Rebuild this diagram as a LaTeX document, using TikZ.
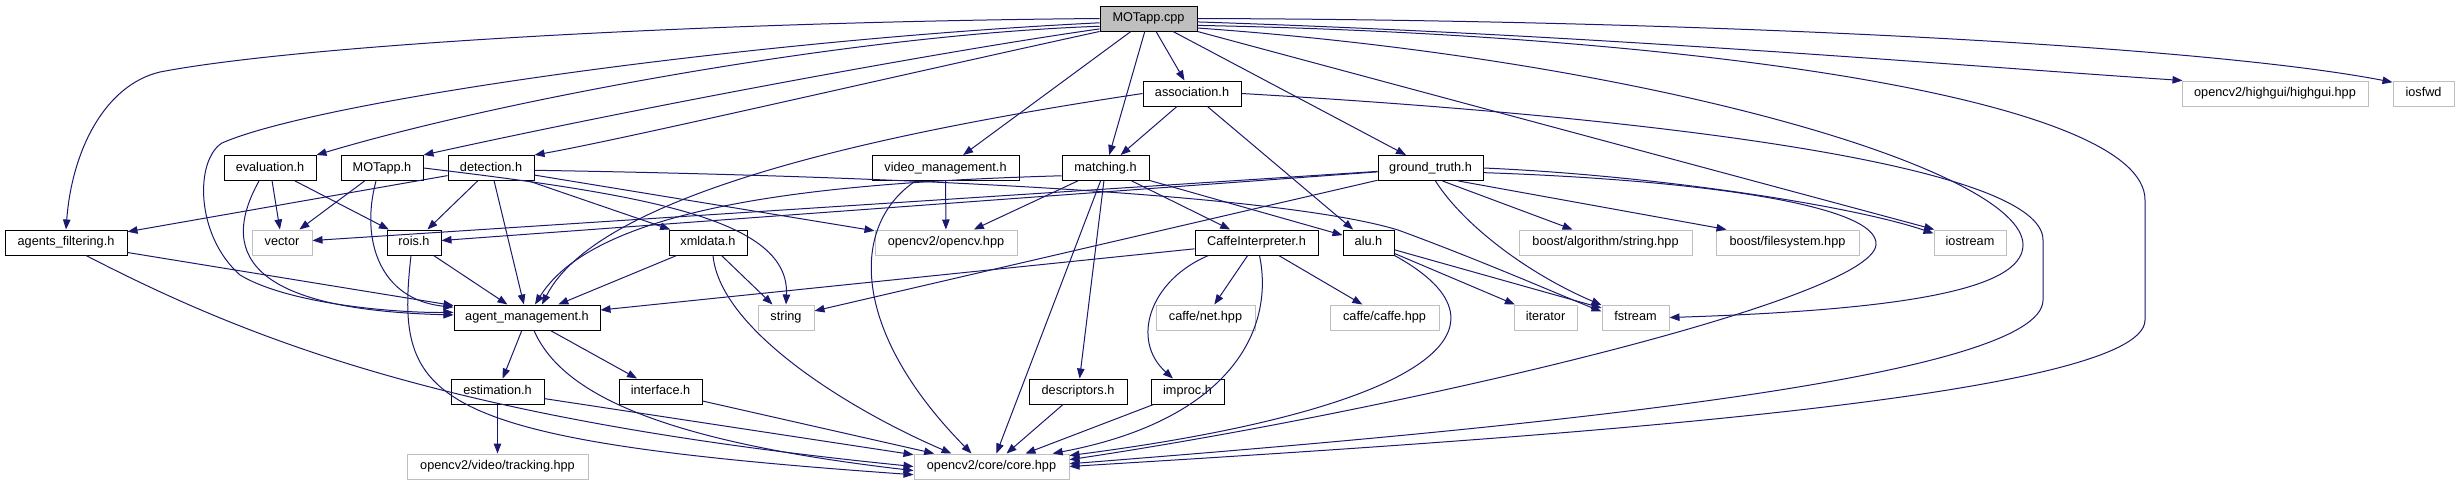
\documentclass[tikz,border=0pt]{standalone}
\usepackage{fontspec}
\setmainfont{Liberation Sans}
\usetikzlibrary{arrows.meta}
\definecolor{edgec}{HTML}{191970}
\definecolor{greyb}{HTML}{BFBFBF}
\begin{document}
\begin{tikzpicture}[x=1pt,y=-1pt,
  nb/.style={draw=black, line width=1pt, minimum height=25pt, inner sep=0pt, text height=9.3pt, text depth=2.6pt, font=\fontsize{12.7}{14}\selectfont},
  ext/.style={nb, draw=greyb},
  root/.style={nb, fill=greyb},
  e/.style={draw=edgec, line width=1pt, -{Triangle[length=10pt,width=7.5pt]}}]
\fill[white] (0,0) rectangle (2459,485);
\useasboundingbox (0,0) rectangle (2459,485);
% row 1
\node[root, minimum width=97pt] (motcpp) at (1148.5,18.5) {MOTapp.cpp};
% row 2
\node[nb, minimum width=98pt] (assoc) at (1192,93.5) {association.h};
\node[ext, minimum width=186pt] (highgui) at (2275,93.5) {opencv2/highgui/highgui.hpp};
\node[ext, minimum width=61pt] (iosfwd) at (2423.5,93.5) {iosfwd};
% row 3
\node[nb, minimum width=92pt] (eval) at (270,168) {evaluation.h};
\node[nb, minimum width=82pt] (motapph) at (382,168) {MOTapp.h};
\node[nb, minimum width=86pt] (detect) at (491,168) {detection.h};
\node[nb, minimum width=147pt] (video) at (945.5,168) {video\_management.h};
\node[nb, minimum width=87pt] (match) at (1105.5,168) {matching.h};
\node[nb, minimum width=105pt] (gt) at (1430.5,168) {ground\_truth.h};
% row 4
\node[nb, minimum width=122pt] (agfilt) at (66,242.5) {agents\_filtering.h};
\node[ext, minimum width=60pt] (vector) at (282,242.5) {vector};
\node[nb, minimum width=54pt] (rois) at (414,242.5) {rois.h};
\node[nb, minimum width=78pt] (xml) at (708,242.5) {xmldata.h};
\node[ext, minimum width=142pt] (ocv) at (946,242.5) {opencv2/opencv.hpp};
\node[nb, minimum width=123pt] (caffei) at (1256.5,242.5) {CaffeInterpreter.h};
\node[nb, minimum width=51pt] (alu) at (1368.5,242.5) {alu.h};
\node[ext, minimum width=173pt] (bstr) at (1605.5,242.5) {boost/algorithm/string.hpp};
\node[ext, minimum width=143pt] (bfs) at (1787.5,242.5) {boost/filesystem.hpp};
\node[ext, minimum width=72pt] (iostream) at (1970,242.5) {iostream};
% row 5
\node[nb, minimum width=146pt] (agmgmt) at (527,317.5) {agent\_management.h};
\node[ext, minimum width=56pt] (string) at (786,317.5) {string};
\node[ext, minimum width=99pt] (cnet) at (1205.5,317.5) {caffe/net.hpp};
\node[ext, minimum width=109pt] (ccaffe) at (1384.5,317.5) {caffe/caffe.hpp};
\node[ext, minimum width=63pt] (iterator) at (1545.5,317.5) {iterator};
\node[ext, minimum width=67pt] (fstream) at (1635.5,317.5) {fstream};
% row 6
\node[nb, minimum width=93pt] (estim) at (497.5,391.5) {estimation.h};
\node[nb, minimum width=83pt] (iface) at (660.5,391.5) {interface.h};
\node[nb, minimum width=98pt] (desc) at (1078,391.5) {descriptors.h};
\node[nb, minimum width=73pt] (improc) at (1187.5,391.5) {improc.h};
% row 7
\node[ext, minimum width=181pt] (track) at (497.5,466.5) {opencv2/video/tracking.hpp};
\node[ext, minimum width=155pt] (core) at (991.5,466.5) {opencv2/core/core.hpp};

% ---- edges from MOTapp.cpp
\draw[e] (motcpp.west) .. controls (700,22) and (300,45) .. (160,72) .. controls (105,85) and (72,150) .. (agfilt.north);
\draw[e] (motcpp.185) .. controls (750,40) and (320,100) .. (222,143) .. controls (195,160) and (195,235) .. (240,275) .. controls (290,305) and (400,313) .. (agmgmt.176);
\draw[e] (motcpp.189) .. controls (850,35) and (500,100) .. (eval.north east);
\draw[e] (motcpp.192) .. controls (950,50) and (650,105) .. (motapph.north east);
\draw[e] (motcpp.south west) .. controls (900,75) and (620,140) .. (detect.north east);
\draw[e] (motcpp) -- (video);
\draw[e] (motcpp) -- (match);
\draw[e] (motcpp) -- (assoc);
\draw[e] (motcpp) -- (gt);
\draw[e] (motcpp.east) .. controls (1700,20) and (2200,45) .. (iosfwd.160);
\draw[e] (motcpp.356) .. controls (1600,35) and (1950,65) .. (highgui.172);
\draw[e] (motcpp.352) .. controls (1700,35) and (2145,100) .. (2145,200) -- (2145,320) .. controls (2145,400) and (1500,440) .. (core.0);
\draw[e] (motcpp.349) .. controls (1650,60) and (2023,170) .. (2023,245) .. controls (2023,290) and (1900,310) .. (fstream.east);
\draw[e] (motcpp.south east) -- (iostream.160);
% ---- association.h
\draw[e] (assoc) -- (match);
\draw[e] (assoc) -- (alu);
\draw[e] (assoc.west) .. controls (900,130) and (600,190) .. ([xshift=15pt]agmgmt.north);
\draw[e] (assoc.east) .. controls (1700,120) and (2043,170) .. (2043,240) -- (2043,300) .. controls (2043,380) and (1500,430) .. (core.2);
% ---- evaluation.h
\draw[e] (eval) -- (vector);
\draw[e] (eval) -- (rois);
\draw[e] ([xshift=-11pt]eval.south) .. controls (215,260) and (260,310) .. (agmgmt.178);
% ---- MOTapp.h
\draw[e] (motapph) -- (vector);
\draw[e] ([xshift=-6pt]motapph.south) .. controls (360,240) and (380,300) .. (agmgmt.172);
\draw[e] (motapph.east) .. controls (650,195) and (790,220) .. (string.north);
% ---- detection.h
\draw[e] (detect) -- (agfilt);
\draw[e] (detect) -- (rois);
\draw[e] (detect) -- (agmgmt);
\draw[e] (detect) -- (xml);
\draw[e] (detect) -- (ocv);
\draw[e] (detect.-3) .. controls (1000,178) and (1300,200) .. (1398,230) .. controls (1480,260) and (1560,295) .. (fstream.170);
% ---- video_management.h
\draw[e] (video) -- (ocv);
\draw[e] ([xshift=-30pt]video.south) .. controls (850,225) and (850,330) .. ([xshift=-20pt]core.north);
% ---- matching.h
\draw[e] (match.190) .. controls (850,182) and (600,200) .. ([xshift=8pt]agmgmt.north);
\draw[e] (match) -- (ocv);
\draw[e] (match) -- (caffei);
\draw[e] (match) -- (alu);
\draw[e] (match) -- (desc);
\draw[e] (match) -- (core);
% ---- ground_truth.h
\draw[e] (gt) -- (vector);
\draw[e] (gt) -- (rois);
\draw[e] (gt) -- (string);
\draw[e] ([xshift=12pt]gt.south) -- ([xshift=-33pt]bstr.north);
\draw[e] ([xshift=28pt]gt.south) -- ([xshift=-61pt]bfs.north);
\draw[e] ([xshift=5pt]gt.south) .. controls (1460,220) and (1520,270) .. (fstream.160);
\draw[e] (gt.east) .. controls (1650,175) and (1850,205) .. (iostream.166);
\draw[e] (gt.-5) .. controls (1700,180) and (1880,205) .. (1876,245) .. controls (1870,300) and (1400,410) .. (core.5);
% ---- xmldata.h
\draw[e] (xml) -- (agmgmt);
\draw[e] (xml) -- (string);
\draw[e] ([xshift=5pt]xml.south) .. controls (720,330) and (850,410) .. ([xshift=-40pt]core.north);
% ---- agents_filtering.h
\draw[e] (agfilt) -- (agmgmt);
\draw[e] ([xshift=20pt]agfilt.south) .. controls (250,340) and (450,420) .. (core.west);
% ---- rois.h
\draw[e] (rois) -- (agmgmt);
\draw[e] ([xshift=-3pt]rois.south) .. controls (395,400) and (420,440) .. (core.186);
% ---- agent_management.h
\draw[e] (agmgmt) -- (estim);
\draw[e] (agmgmt) -- (iface);
\draw[e] ([xshift=7pt]agmgmt.south) .. controls (560,390) and (650,440) .. (core.183);
% ---- estimation.h and others
\draw[e] (estim) -- (track);
\draw[e] (estim) -- (core);
\draw[e] (iface) -- (core);
\draw[e] (desc) -- (core);
\draw[e] (improc) -- (core);
% ---- CaffeInterpreter.h
\draw[e] (caffei) -- (agmgmt);
\draw[e] (caffei) -- (cnet);
\draw[e] (caffei) -- (ccaffe);
\draw[e] ([xshift=-48pt]caffei.south) .. controls (1150,280) and (1130,340) .. (improc);
\draw[e] ([xshift=3pt]caffei.south) .. controls (1275,330) and (1230,420) .. (core.12);
% ---- alu.h
\draw[e] (alu) -- (iterator);
\draw[e] (alu) -- (fstream);
\draw[e] (alu.south east) .. controls (1530,330) and (1420,410) .. (core.8);
\end{tikzpicture}
\end{document}
